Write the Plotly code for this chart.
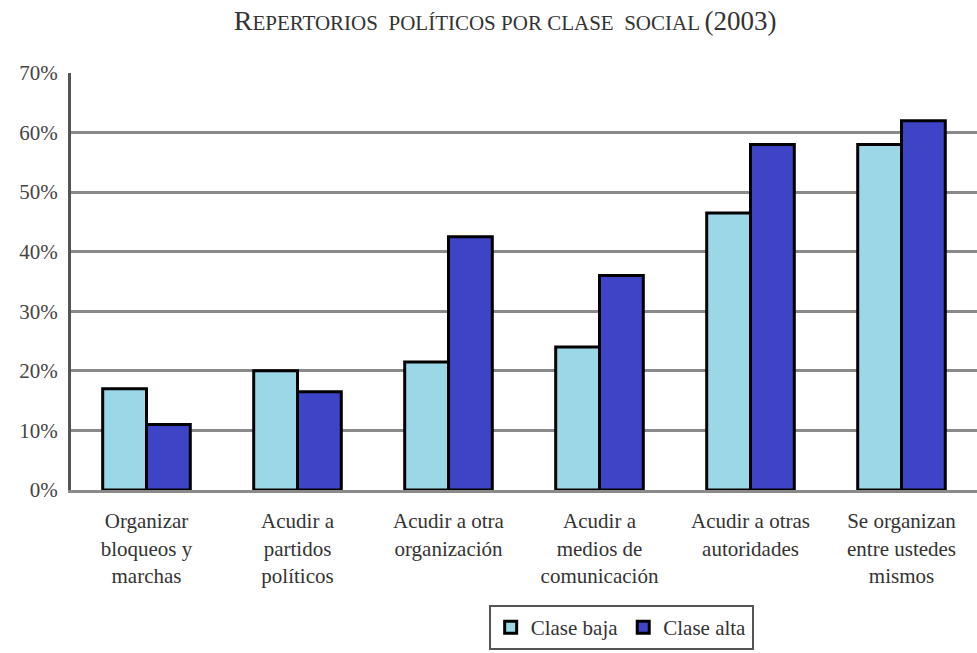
import plotly.graph_objects as go

categories = [
    "Organizar<br>bloqueos y<br>marchas",
    "Acudir a<br>partidos<br>políticos",
    "Acudir a otra<br>organización",
    "Acudir a<br>medios de<br>comunicación",
    "Acudir a otras<br>autoridades",
    "Se organizan<br>entre ustedes<br>mismos",
]
clase_baja = [17, 20, 21.5, 24, 46.5, 58]
clase_alta = [11, 16.5, 42.5, 36, 58, 62]
y_ticks = [0, 10, 20, 30, 40, 50, 60, 70]
y_labels = ["0%", "10%", "20%", "30%", "40%", "50%", "60%", "70%"]

FONT = "Liberation Serif, DejaVu Serif, Noto Serif, Times New Roman, serif"

fig = go.Figure()
fig.add_trace(go.Bar(x=categories, y=clase_baja, name="Clase baja",
                     marker=dict(color="#9AD8E8", line=dict(color="black", width=3))))
fig.add_trace(go.Bar(x=categories, y=clase_alta, name="Clase alta",
                     marker=dict(color="#3D44C6", line=dict(color="black", width=3))))

title = ("<span style='font-size:28px'>R</span>EPERTORIOS&nbsp; POLÍTICOS POR CLASE&nbsp; SOCIAL "
         "<span style='font-size:27px'>(2003)</span>")

fig.update_layout(
    width=977, height=653,
    margin=dict(l=71, r=0, t=73, b=163, autoexpand=False),
    paper_bgcolor="white", plot_bgcolor="white",
    barmode="group", bargap=0.42, bargroupgap=0,
    font=dict(family=FONT, size=21, color="#333333"),
    title=dict(text=title, x=0.517, xanchor="center", y=0.966, yanchor="middle",
               font=dict(family=FONT, size=21, color="#333333")),
    legend=dict(orientation="h", x=0.461, y=-0.384, xanchor="left", yanchor="bottom",
                bordercolor="#555555", borderwidth=2, bgcolor="white",
                font=dict(family=FONT, size=21, color="#333333"),
                itemwidth=30, tracegroupgap=0),
    showlegend=True,
)
fig.update_yaxes(range=[0, 70], tickvals=y_ticks, ticktext=y_labels,
                 showgrid=True, gridcolor="#8a8a8a", gridwidth=3,
                 showline=True, linecolor="#555555", linewidth=3,
                 zeroline=False, ticks="", ticklen=0, ticklabelstandoff=6,
                 automargin=False,
                 tickfont=dict(family=FONT, size=21, color="#444444"))
fig.update_xaxes(showline=True, linecolor="#8a8a8a", linewidth=3,
                 showgrid=False, ticks="", ticklabelstandoff=10,
                 automargin=False,
                 tickfont=dict(family=FONT, size=21, color="#333333"),
                 tickangle=0)

fig.write_html("out.html")
